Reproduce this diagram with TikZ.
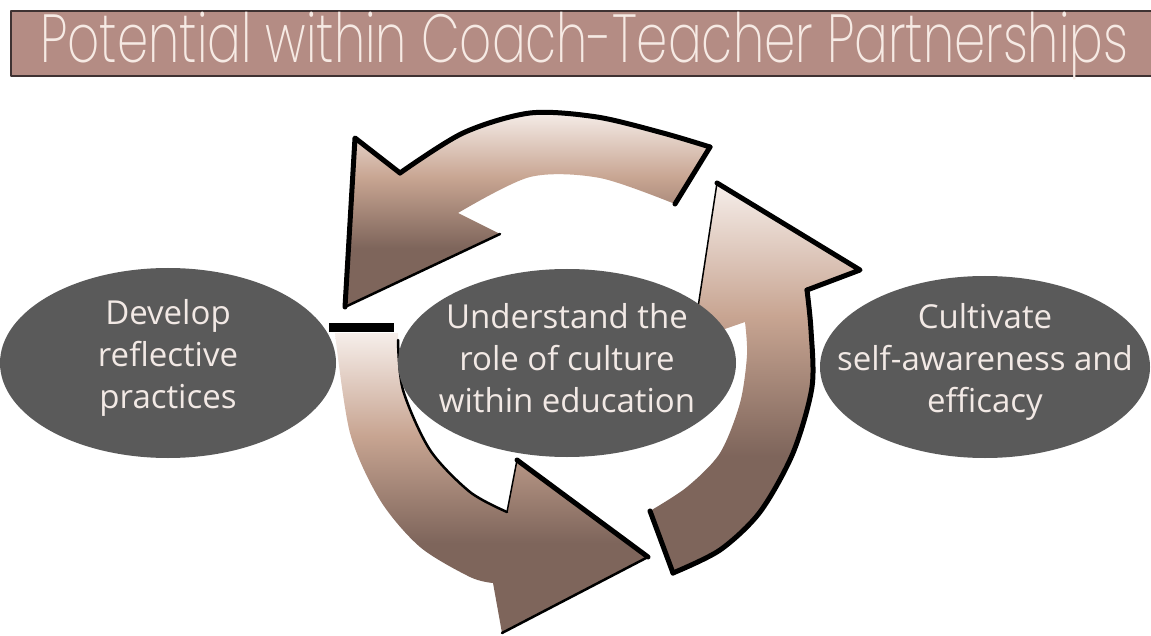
\documentclass[tikz,border=0pt]{standalone}
\usepackage{fontspec}
\usepackage{graphicx}
\usetikzlibrary{shapes.geometric}
\setmainfont{Open Sans}
\IfFontExistsTF{Poppins ExtraLight}{\newfontfamily\titlefont{Poppins ExtraLight}}{%
  \IfFontExistsTF{Poppins Light}{\newfontfamily\titlefont{Poppins Light}}{\newfontfamily\titlefont{Poppins}}}

\definecolor{barfill}{HTML}{B48C84}
\definecolor{barline}{HTML}{3E3232}
\definecolor{titleink}{HTML}{F6EAE4}
\definecolor{bubblefill}{HTML}{5A5A5A}
\definecolor{bubbleink}{HTML}{F2E9E5}
\definecolor{arrowlight}{HTML}{F6EEEA}
\definecolor{arrowmid}{HTML}{C8A592}
\definecolor{arrowdark}{HTML}{7E655B}

% light at the top, tan in the middle, brown towards the head
\pgfdeclareverticalshading{arrowfade}{100bp}{color(0bp)=(arrowdark); color(40bp)=(arrowdark); color(58bp)=(arrowmid); color(75bp)=(arrowlight); color(100bp)=(arrowlight)}

\begin{document}
\begin{tikzpicture}[line cap=round,line join=round,x=1pt,y=-1pt,
    rim/.style={draw=black,line width=5pt},
    thinrim/.style={draw=black,line width=1.5pt},
    bubble/.style={ellipse,fill=bubblefill,inner sep=0pt},
    bubbletext/.style={text=bubbleink,align=center,inner sep=0pt,font=\fontsize{33}{42}\selectfont}]
\useasboundingbox (0,0) rectangle (1151,636);

% title bar
\fill[barfill] (11,11) rectangle (1152,76);
\draw[barline,line width=2pt] (1152,11) -- (11,11) -- (11,76) -- (1152,76);
\node (title) [anchor=base west,inner sep=0pt,text=titleink] at (40,63) {\resizebox{1088pt}{\height}{\titlefont\fontsize{68}{68}\selectfont Potential within Coach-Teacher Partnerships}};

% upper arrow, running over the top to the left
\shade[shading=arrowfade] (710,147) -- plot[smooth] coordinates {(675,204) (600,178) (530,177) (458,213)} -- (500,234) -- (345,307) -- (355,138) -- plot[smooth] coordinates {(400,173) (463,133) (530,113) (597,117) (663,133) (710,147)} -- cycle;
\draw[rim] (675,204) -- (710,147);
\draw[rim] plot[smooth] coordinates {(400,173) (463,133) (530,113) (597,117) (663,133) (710,147)};
\draw[rim] (400,173) -- (355,138) -- (345,307);
\draw[thinrim,line width=2.5pt] (345,307) -- (500,234);

% left arrow, running down to the bottom
\shade[shading=arrowfade] (335,333) -- plot[smooth] coordinates {(398,333) (403,390) (430,450) (470,492) (507,512)} -- (517,460) -- (648,557) -- (502,633) -- plot[smooth] coordinates {(493,583) (470,577) (420,547) (380,500) (350,433) (335,333)} -- cycle;
\draw[black,line width=9pt,line cap=butt] (329,327) -- (394,327);
\draw[thinrim,line width=2.5pt] plot[smooth] coordinates {(398,340) (403,390) (430,450) (470,492) (507,512)};
\draw[thinrim] (507,512) -- (517,460);
\draw[rim] (517,460) -- (648,557);
\draw[thinrim,line width=2.5pt] (648,557) -- (502,633);

% right arrow, running up to the top
\shade[shading=arrowfade] (650,511) -- (673,573) -- plot[smooth] coordinates {(720,550) (760,512) (793,453) (812,387) (811,330) (807,290)} -- (860,270) -- (717,183) -- (693,340) -- plot[smooth] coordinates {(745,322) (747,355) (740,403) (720,453) (687,487) (650,511)} -- cycle;
\draw[rim] (650,511) -- (673,573);
\draw[rim] plot[smooth] coordinates {(673,573) (720,550) (760,512) (793,453) (812,387) (811,330) (807,290)};
\draw[rim] (807,290) -- (860,270) -- (717,183);
\draw[thinrim] (717,183) -- (693,340);

% the three ovals
\node (develop) [bubble,minimum width=336pt,minimum height=190pt] at (168,363) {};
\node (developtext) [bubbletext] at ([yshift=5pt]develop.center) {Develop\\reflective\\practices};
\node (understand) [bubble,minimum width=338pt,minimum height=188pt] at (567,363) {};
\node (understandtext) [bubbletext] at ([yshift=5pt]understand.center) {Understand the\\role of culture\\within education};
\node (cultivate) [bubble,minimum width=330pt,minimum height=182pt] at (985,367) {};
\node (cultivatetext) [bubbletext] at ([yshift=5pt]cultivate.center) {Cultivate\\self-awareness and\\efficacy};
\end{tikzpicture}
\end{document}
